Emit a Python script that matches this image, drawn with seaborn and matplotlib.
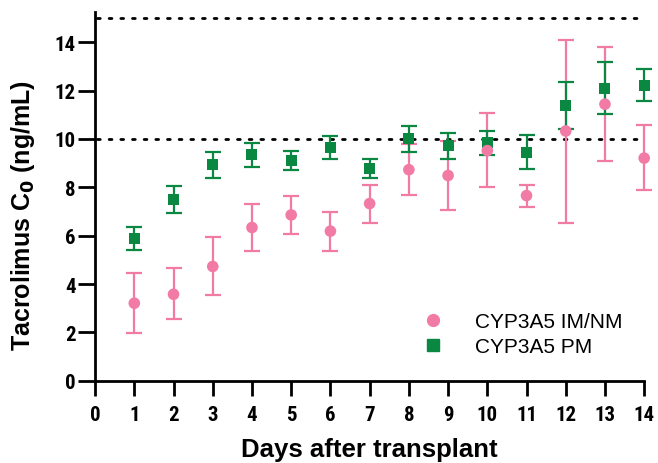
import matplotlib
matplotlib.use("Agg")
import matplotlib.pyplot as plt
import seaborn as sns
import pandas as pd
import numpy as np
from matplotlib.lines import Line2D

days = list(range(1, 15))

im_nm_mean = [3.21, 3.58, 4.73, 6.34, 6.86, 6.19, 7.33, 8.73, 8.49, 9.52, 7.66, 10.33, 11.44, 9.21]
im_nm_upper = [4.45, 4.65, 5.94, 7.30, 7.66, 7.00, 8.11, 9.80, 9.90, 11.06, 8.11, 14.11, 13.80, 10.57]
im_nm_lower = [1.99, 2.54, 3.54, 5.35, 6.06, 5.36, 6.53, 7.67, 7.08, 8.00, 7.20, 6.53, 9.07, 7.88]

pm_mean = [5.89, 7.51, 8.93, 9.36, 9.11, 9.66, 8.77, 10.03, 9.72, 9.85, 9.46, 11.38, 12.09, 12.21]
pm_upper = [6.37, 8.07, 9.47, 9.85, 9.51, 10.13, 9.19, 10.55, 10.24, 10.35, 10.15, 12.36, 13.17, 12.89]
pm_lower = [5.39, 6.93, 8.40, 8.85, 8.71, 9.19, 8.39, 9.47, 9.18, 9.35, 8.74, 10.40, 11.03, 11.57]

groups = ["CYP3A5 IM/NM", "CYP3A5 PM"]
ref_lines = [10, 15]
x_ticks = list(range(0, 15))
y_ticks = list(range(0, 16, 2))

pink = "#F27BA6"
green = "#0A8740"

sns.set_style("ticks")
plt.rcParams["font.family"] = ["Liberation Sans", "DejaVu Sans"]
plt.rcParams["text.color"] = "black"
plt.rcParams["axes.labelcolor"] = "black"
plt.rcParams["xtick.color"] = "black"
plt.rcParams["ytick.color"] = "black"
plt.rcParams["xtick.labelcolor"] = "black"
plt.rcParams["ytick.labelcolor"] = "black"
tick_family = ["Roboto Condensed", "Liberation Sans Narrow", "DejaVu Sans Condensed", "Liberation Sans"]

df = pd.DataFrame({
    "day": days * 2,
    "value": im_nm_mean + pm_mean,
    "group": [groups[0]] * 14 + [groups[1]] * 14,
})

fig = plt.figure(figsize=(6.58, 4.64), dpi=100)
ax = fig.add_axes([0.1445, 0.177, 0.8345, 0.795])

for y in ref_lines:
    ax.plot([0.05, 13.85], [y, y], linestyle=(0, (1, 3.2)), color="black", linewidth=2.0,
            dash_capstyle="round", zorder=1)

ax.errorbar(days, im_nm_mean,
            yerr=[np.array(im_nm_mean) - np.array(im_nm_lower), np.array(im_nm_upper) - np.array(im_nm_mean)],
            fmt="none", ecolor=pink, elinewidth=1.6, capsize=5.5, capthick=1.6, zorder=2)
ax.errorbar(days, pm_mean,
            yerr=[np.array(pm_mean) - np.array(pm_lower), np.array(pm_upper) - np.array(pm_mean)],
            fmt="none", ecolor=green, elinewidth=1.6, capsize=5.5, capthick=1.6, zorder=3)

sns.scatterplot(data=df[df.group == groups[1]], x="day", y="value", color=green, marker="s",
                s=62, edgecolor="none", ax=ax, zorder=4, legend=False)
sns.scatterplot(data=df[df.group == groups[0]], x="day", y="value", color=pink, marker="o",
                s=70, edgecolor="none", ax=ax, zorder=5, legend=False)

for child in ax.get_children():
    try:
        child.set_clip_on(False)
    except Exception:
        pass

ax.set_xlim(0, 14)
ax.set_ylim(0, 15.25)
ax.set_xticks(x_ticks)
ax.set_yticks(y_ticks)
ax.set_xticklabels([str(t) for t in x_ticks], fontsize=15, fontweight="bold", family=tick_family,
                   color="black")
ax.set_yticklabels([str(t) for t in y_ticks], fontsize=15, fontweight="bold", family=tick_family,
                   color="black")
ax.tick_params(axis="x", length=10.5, width=2, color="black", pad=7)
ax.tick_params(axis="y", length=12, width=2, color="black", pad=2)

for s in ["top", "right"]:
    ax.spines[s].set_visible(False)
for s in ["left", "bottom"]:
    ax.spines[s].set_linewidth(2)
    ax.spines[s].set_color("black")

ax.set_xlabel("Days after transplant", fontsize=18.5, fontweight="bold", color="black")
ax.set_ylabel(r"Tacrolimus C$_\mathbf{0}$ (ng/mL)", fontsize=18, fontweight="bold", color="black")
ax.xaxis.set_label_coords(0.5, -0.152)
ax.yaxis.set_label_coords(-0.105, 0.45)

handles = [
    Line2D([], [], marker="o", color=pink, linestyle="none", markersize=8.5),
    Line2D([], [], marker="s", color=green, linestyle="none", markersize=8),
]
leg = ax.legend(handles, groups, loc="lower left", bbox_to_anchor=(0.581, 0.044), frameon=False,
                prop={"size": 15}, handletextpad=1.5, labelspacing=0.3, handlelength=1.0,
                borderaxespad=0, labelcolor="black")

fig.savefig("out.png", dpi=100)
